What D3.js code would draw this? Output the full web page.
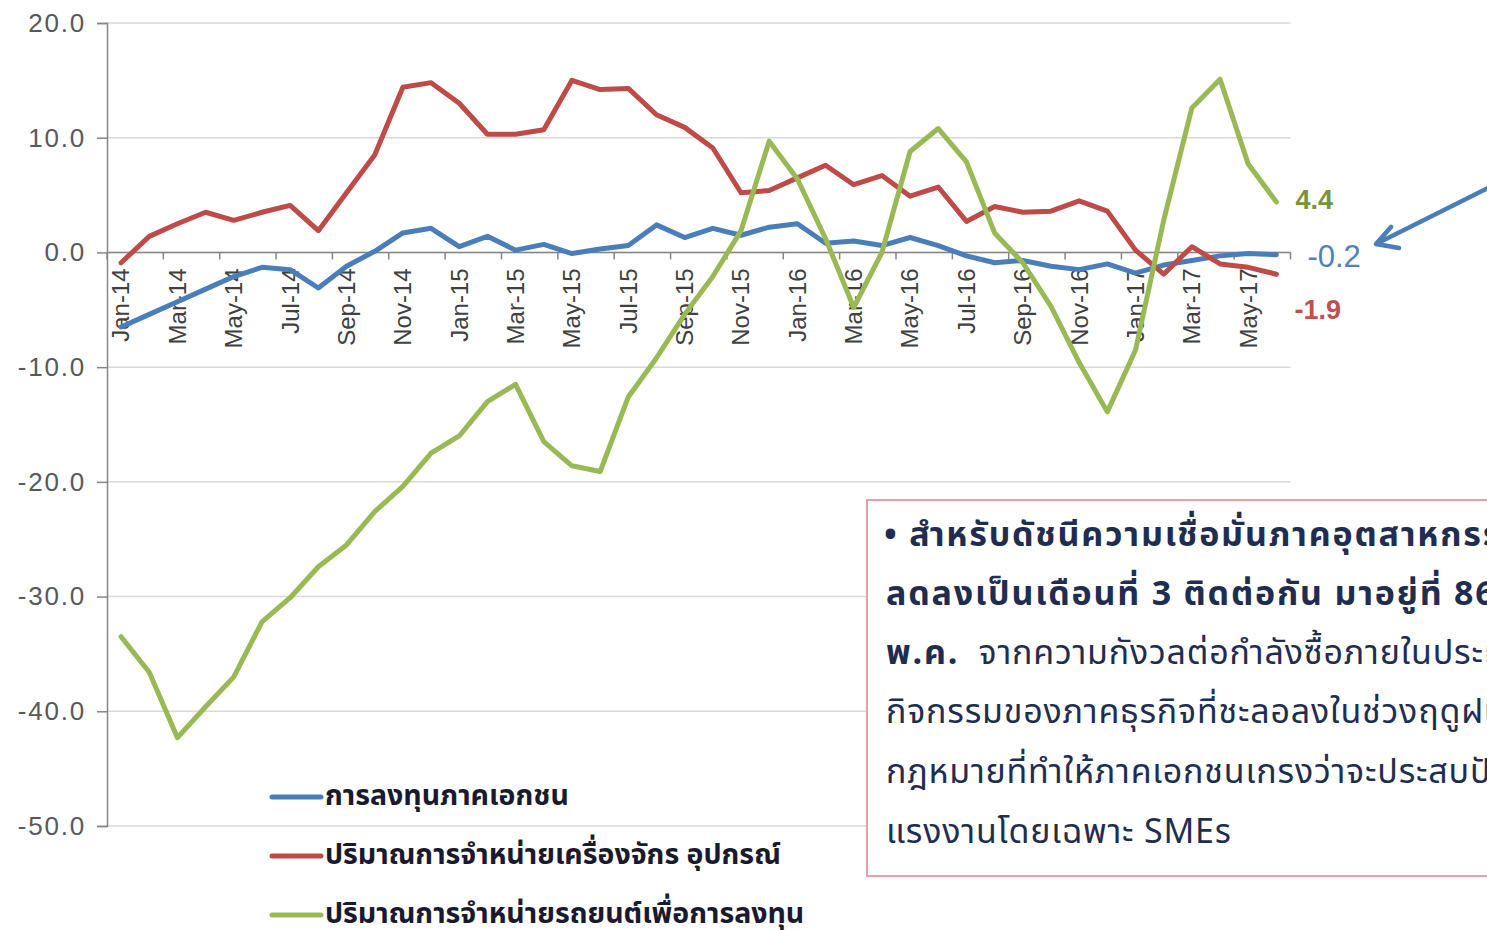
<!DOCTYPE html>
<html lang="th">
<head>
    <meta charset="UTF-8">
    <title>การลงทุนภาคเอกชน</title>
    <script src="https://d3js.org/d3.v7.min.js"></script>
    <style>
        body { margin: 0; background: #fff; }
        svg { display: block; }
        .tick-y { font-family: Arial, "Liberation Sans", sans-serif; font-size: 26px; letter-spacing: 1.8px; fill: #595959; }
        .tick-x { font-family: Arial, "Liberation Sans", sans-serif; font-size: 24px; fill: #404040; }
        .legend { font-family: Tahoma, "Noto Sans Thai", "Noto Sans", sans-serif; font-size: 28.5px; font-weight: bold; fill: #1a1a2e; }
        .note { font-family: Tahoma, "Noto Sans Thai", "Noto Sans", sans-serif; font-size: 34px; letter-spacing: 0.8px; fill: #1f2d50; }
        .note-b { font-weight: bold; letter-spacing: 1.8px; }
        .line { fill: none; stroke-width: 5px; stroke-linejoin: round; stroke-linecap: round; }
    </style>
</head>
<body>
<svg id="chart" width="1487" height="930"></svg>
<script>
    // month categories Jan-14 .. Jun-17
    const months = [
        "Jan-14","Feb-14","Mar-14","Apr-14","May-14","Jun-14","Jul-14","Aug-14","Sep-14","Oct-14","Nov-14","Dec-14",
        "Jan-15","Feb-15","Mar-15","Apr-15","May-15","Jun-15","Jul-15","Aug-15","Sep-15","Oct-15","Nov-15","Dec-15",
        "Jan-16","Feb-16","Mar-16","Apr-16","May-16","Jun-16","Jul-16","Aug-16","Sep-16","Oct-16","Nov-16","Dec-16",
        "Jan-17","Feb-17","Mar-17","Apr-17","May-17","Jun-17"
    ];

    const privateInvestment = [
        -6.5, -5.4, -4.3, -3.2, -2.1, -1.3, -1.5, -3.1, -1.2, 0.1, 1.7, 2.1,
        0.5, 1.4, 0.2, 0.7, -0.1, 0.3, 0.6, 2.4, 1.3, 2.1, 1.5, 2.2,
        2.5, 0.8, 1.0, 0.6, 1.3, 0.6, -0.3, -0.9, -0.7, -1.2, -1.5, -1.0,
        -1.8, -1.1, -0.7, -0.3, -0.1, -0.2
    ];

    const machinerySales = [
        -0.9, 1.4, 2.5, 3.5, 2.8, 3.5, 4.1, 1.9, 5.2, 8.5, 14.4, 14.8,
        13.0, 10.3, 10.3, 10.7, 15.0, 14.2, 14.3, 12.0, 10.9, 9.1, 5.2, 5.4,
        6.5, 7.6, 5.9, 6.7, 4.9, 5.7, 2.7, 4.0, 3.5, 3.6, 4.5, 3.6,
        0.2, -1.9, 0.5, -1.0, -1.3, -1.9
    ];

    const vehicleSales = [
        -33.5, -36.6, -42.3, -39.6, -37.0, -32.2, -30.1, -27.4, -25.5, -22.6, -20.4, -17.5,
        -16.0, -13.0, -11.5, -16.5, -18.6, -19.1, -12.6, -9.2, -5.4, -2.1, 1.9, 9.7,
        6.4, 1.2, -4.8, 0.0, 8.8, 10.8, 7.9, 1.7, -0.9, -4.7, -9.6, -13.9,
        -8.5, 2.8, 12.6, 15.1, 7.7, 4.4
    ];

    const yTicks = [20, 10, 0, -10, -20, -30, -40, -50];

    const seriesNames = [
        "การลงทุนภาคเอกชน",
        "ปริมาณการจำหน่ายเครื่องจักร อุปกรณ์",
        "ปริมาณการจำหน่ายรถยนต์เพื่อการลงทุน"
    ];

    const noteLines = [
        "สำหรับดัชนีความเชื่อมั่นภาคอุตสาหกรรม ปรับ",
        "ลดลงเป็นเดือนที่ 3 ติดต่อกัน มาอยู่ที่ 86.4 ใน",
        "จากความกังวลต่อกำลังซื้อภายในประเทศ",
        "กิจกรรมของภาคธุรกิจที่ชะลอลงในช่วงฤดูฝน",
        "กฎหมายที่ทำให้ภาคเอกชนเกรงว่าจะประสบปัญหา",
        "แรงงานโดยเฉพาะ SMEs"
    ];

    const colors = ["#4a7ebb", "#be4b48", "#98b954"];
    const series = [privateInvestment, machinerySales, vehicleSales];

    const svg = d3.select("#chart");
    svg.append("rect").attr("width", 1487).attr("height", 930).attr("fill", "#fff");

    const x = d3.scaleBand().domain(months).range([107, 1290.5]).padding(0);
    const y = d3.scaleLinear().domain([-50, 20]).range([826, 23]);
    const cx = d => x(d) + x.bandwidth() / 2;

    // gridlines
    svg.append("g").selectAll("line").data(yTicks).enter().append("line")
        .attr("x1", 107).attr("x2", 1290.5)
        .attr("y1", d => y(d)).attr("y2", d => y(d))
        .attr("stroke", "#d9d9d9").attr("stroke-width", 1.5);

    // y axis (plain hyphen for negatives, like the original)
    const yAxis = svg.append("g").attr("transform", "translate(107,0)")
        .call(d3.axisLeft(y).tickValues(yTicks).tickSize(10).tickPadding(11).tickFormat(d => d.toFixed(1)));
    yAxis.select(".domain").attr("stroke", "#868686").attr("stroke-width", 1.5);
    yAxis.selectAll(".tick line").attr("stroke", "#868686").attr("stroke-width", 1.5);
    yAxis.selectAll(".tick text").attr("class", "tick-y").attr("font-size", null).attr("font-family", null).attr("fill", null);

    // x axis along zero
    const xg = svg.append("g");
    xg.append("line").attr("x1", 107).attr("x2", 1290.5).attr("y1", y(0)).attr("y2", y(0))
        .attr("stroke", "#868686").attr("stroke-width", 1.5);
    const tickPos = d3.range(0, months.length + 1, 2).map(i => 107 + i * x.bandwidth());
    xg.selectAll(".xt").data(tickPos).enter().append("line")
        .attr("x1", d => d).attr("x2", d => d)
        .attr("y1", y(0)).attr("y2", y(0) + 7)
        .attr("stroke", "#868686").attr("stroke-width", 1.5);
    xg.selectAll(".xl").data(months.filter((m, i) => i % 2 === 0)).enter().append("text")
        .attr("class", "tick-x")
        .attr("text-anchor", "end")
        .attr("dy", "0.35em")
        .attr("transform", d => `translate(${cx(d)},${y(0) + 16}) rotate(-90)`)
        .text(d => d);

    // lines
    const line = d3.line().x((d, i) => cx(months[i])).y(d => y(d));
    series.forEach((s, k) => {
        svg.append("path").datum(s).attr("class", "line")
            .attr("stroke", colors[k]).attr("d", line);
    });

    // end value labels
    const last = months[months.length - 1];
    svg.append("text").attr("x", cx(last) + 19).attr("y", y(vehicleSales[41]) - 2)
        .attr("dy", "0.35em").attr("font-family", "Arial, sans-serif").attr("font-size", 27)
        .attr("font-weight", "bold").attr("fill", "#77933c").text(vehicleSales[41].toFixed(1));
    svg.append("text").attr("x", cx(last) + 31).attr("y", y(privateInvestment[41]) + 1)
        .attr("dy", "0.35em").attr("font-family", "Arial, sans-serif").attr("font-size", 31)
        .attr("fill", "#4f81bd").text(privateInvestment[41].toFixed(1));
    svg.append("text").attr("x", cx(last) + 18).attr("y", y(machinerySales[41]) + 35)
        .attr("dy", "0.35em").attr("font-family", "Arial, sans-serif").attr("font-size", 27)
        .attr("font-weight", "bold").attr("fill", "#c0504d").text(machinerySales[41].toFixed(1));

    // arrow pointing at the blue value
    svg.append("path")
        .attr("d", "M1490,187 L1376,244 M1376,244 L1391,227 M1376,244 L1399,248")
        .attr("stroke", "#4a7ebb").attr("stroke-width", 4.5)
        .attr("stroke-linecap", "round").attr("fill", "none");

    // legend
    const legend = svg.append("g");
    seriesNames.forEach((name, k) => {
        const ly = 797 + k * 59;
        legend.append("line").attr("x1", 272).attr("x2", 321).attr("y1", ly).attr("y2", ly)
            .attr("stroke", colors[k]).attr("stroke-width", 5).attr("stroke-linecap", "round");
        legend.append("text").attr("class", "legend").attr("x", 325).attr("y", ly - 2)
            .attr("dy", "0.35em").text(name);
    });

    // note box
    svg.append("rect").attr("x", 867).attr("y", 500).attr("width", 640).attr("height", 376)
        .attr("fill", "#fff").attr("stroke", "#e3a3a5").attr("stroke-width", 2);
    const note = svg.append("g");
    note.append("text").attr("class", "note note-b").attr("x", 884).attr("y", 546)
        .text("• " + noteLines[0]);
    note.append("text").attr("class", "note note-b").attr("x", 886).attr("y", 605)
        .text(noteLines[1]);
    const l3 = note.append("text").attr("class", "note").attr("x", 886).attr("y", 664);
    l3.append("tspan").attr("class", "note-b").text("พ.ค.");
    l3.append("tspan").text("\u00a0\u00a0" + noteLines[2]);
    noteLines.slice(3).forEach((t, i) => {
        note.append("text").attr("class", "note").attr("x", 886).attr("y", 723 + i * 60).text(t);
    });
</script>
</body>
</html>
